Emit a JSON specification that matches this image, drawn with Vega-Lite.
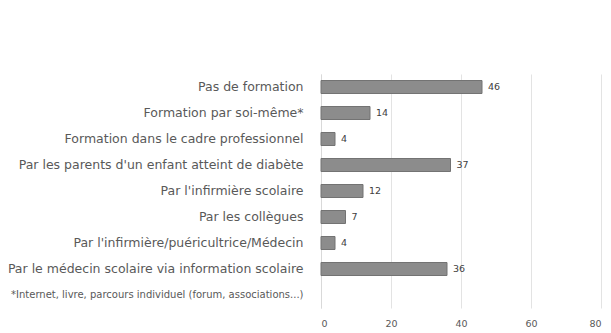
{
  "$schema": "https://vega.github.io/schema/vega-lite/v6.json",
  "autosize": {"type": "none"},
  "width": 280,
  "height": 234,
  "padding": {"left": 321, "top": 74, "right": 10, "bottom": 25},
  "background": "white",
  "config": {
    "view": {"stroke": null},
    "font": "DejaVu Sans"
  },
  "data": {
    "values": [
      {"source": "Pas de formation", "pct": 46},
      {"source": "Formation par soi-même*", "pct": 14},
      {"source": "Formation dans le cadre professionnel", "pct": 4},
      {"source": "Par les parents d'un enfant atteint de diabète", "pct": 37},
      {"source": "Par l'infirmière scolaire", "pct": 12},
      {"source": "Par les collègues", "pct": 7},
      {"source": "Par l'infirmière/puéricultrice/Médecin", "pct": 4},
      {"source": "Par le médecin scolaire via information scolaire", "pct": 36}
    ]
  },
  "encoding": {
    "y": {
      "field": "source",
      "type": "nominal",
      "sort": null,
      "scale": {
        "domain": [
          "Pas de formation",
          "Formation par soi-même*",
          "Formation dans le cadre professionnel",
          "Par les parents d'un enfant atteint de diabète",
          "Par l'infirmière scolaire",
          "Par les collègues",
          "Par l'infirmière/puéricultrice/Médecin",
          "Par le médecin scolaire via information scolaire",
          "*Internet, livre, parcours individuel (forum, associations...)"
        ],
        "paddingInner": 0.5,
        "paddingOuter": 0.25
      },
      "axis": {
        "title": null,
        "ticks": false,
        "domainColor": "#d9d9d9",
        "labelPadding": 18,
        "labelFontSize": {"condition": {"test": "indexof(datum.value, '*Internet') === 0", "value": 10}, "value": 12.5},
        "labelColor": "#595959",
        "labelLimit": 330
      }
    },
    "x": {
      "field": "pct",
      "type": "quantitative",
      "scale": {"domain": [0, 80], "nice": false},
      "axis": {
        "title": null,
        "values": [0, 20, 40, 60, 80],
        "ticks": false,
        "domain": false,
        "grid": true,
        "gridColor": "#e3e3e3",
        "labelPadding": 10,
        "labelFontSize": 9.5,
        "labelColor": "#595959"
      }
    }
  },
  "layer": [
    {
      "mark": {"type": "bar", "color": "#8c8c8c", "stroke": "#737373", "strokeWidth": 1}
    },
    {
      "mark": {"type": "text", "align": "left", "dx": 6, "fontSize": 9.5, "color": "#404040"},
      "encoding": {"text": {"field": "pct", "type": "quantitative"}}
    }
  ]
}
